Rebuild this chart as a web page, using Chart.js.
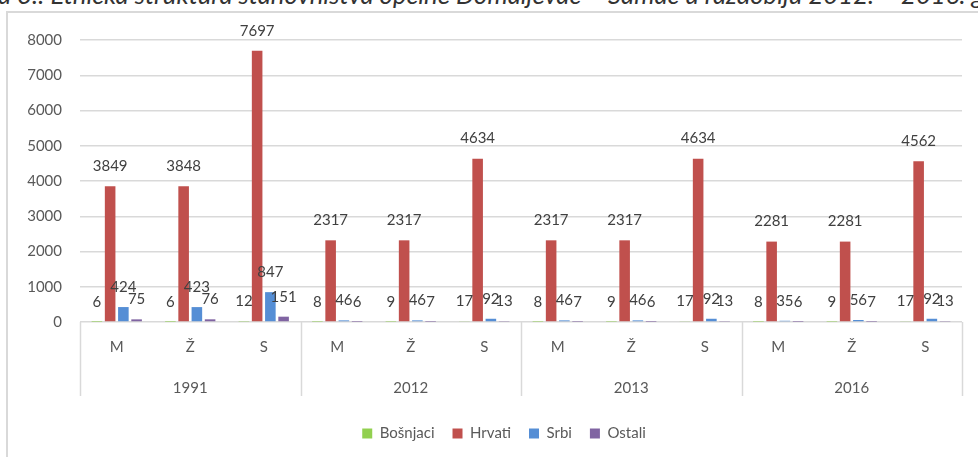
<!DOCTYPE html>
<html>
<head>
<meta charset="utf-8">
<script src="https://cdn.jsdelivr.net/npm/chart.js@4"></script>
<style>
  body { margin: 0; background: #fff; overflow: hidden; }
  #wrap { position: relative; width: 978px; height: 457px; overflow: hidden; }
  #title {
    position: absolute; left: -2px; top: -18px; white-space: nowrap;
    font: italic 25.7px/24px Lato, sans-serif; color: #333;
  }
  #frame {
    position: absolute; left: 6px; top: 11px; width: 1100px; height: 600px;
    border: 2px solid #d9d9d9;
  }
  #chart { position: absolute; left: 0; top: 0; }
</style>
</head>
<body>
<div id="wrap">
  <div id="title">a 3.: Etnička struktura stanovništva općine Domaljevac – Šamac u razdoblju 2012. – 2016. godine</div>
  <div id="frame"></div>
  <canvas id="chart" width="978" height="457"></canvas>
</div>
<script>
// Categories (sex) and years
const categories = ['M', 'Ž', 'S', 'M', 'Ž', 'S', 'M', 'Ž', 'S', 'M', 'Ž', 'S'];
const years = ['1991', '2012', '2013', '2016'];

// Population by ethnicity
const bosnjaci = [6, 6, 12, 8, 9, 17, 8, 9, 17, 8, 9, 17];
const hrvati = [3849, 3848, 7697, 2317, 2317, 4634, 2317, 2317, 4634, 2281, 2281, 4562];
const srbi = [424, 423, 847, 46, 46, 92, 46, 46, 92, 35, 56, 92];
const ostali = [75, 76, 151, 6, 7, 13, 7, 6, 13, 6, 7, 13];

const yTicks = [0, 1000, 2000, 3000, 4000, 5000, 6000, 7000, 8000];

const FONT = 'Lato';

// Draw value labels above each bar
const valueLabels = {
    id: 'valueLabels',
    afterDatasetsDraw(chart) {
        const ctx = chart.ctx;
        ctx.save();
        ctx.font = '15px ' + FONT;
        ctx.fillStyle = '#404040';
        ctx.textAlign = 'center';
        ctx.textBaseline = 'middle';
        chart.data.datasets.forEach((ds, i) => {
            const meta = chart.getDatasetMeta(i);
            meta.data.forEach((bar, j) => {
                ctx.fillText(ds.data[j], bar.x, bar.y - 20);
            });
        });
        ctx.restore();
    }
};

// Group separators for the two-level category axis
const groupLines = {
    id: 'groupLines',
    afterDraw(chart) {
        const x = chart.scales.x;
        const ctx = chart.ctx;
        const step = x.width / categories.length;
        const top = chart.chartArea.bottom;
        ctx.save();
        ctx.strokeStyle = '#d9d9d9';
        ctx.lineWidth = 1.5;
        for (let i = 0; i <= categories.length; i += 3) {
            const px = Math.round(x.left + i * step) + 0.5;
            ctx.beginPath();
            ctx.moveTo(px, top);
            ctx.lineTo(px, top + 74);
            ctx.stroke();
        }
        ctx.restore();
    }
};

// Legend sits a little right of the canvas centre, like the original
const legendShift = {
    id: 'legendShift',
    afterLayout(chart) {
        if (chart.legend) {
            chart.legend.left += 23;
            chart.legend.right += 23;
        }
    }
};

new Chart(document.getElementById('chart'), {
    type: 'bar',
    data: {
        labels: categories,
        datasets: [
            { label: 'Bošnjaci', data: bosnjaci, backgroundColor: '#92d050' },
            { label: 'Hrvati', data: hrvati, backgroundColor: '#c0504d' },
            { label: 'Srbi', data: srbi, backgroundColor: '#558ed5' },
            { label: 'Ostali', data: ostali, backgroundColor: '#8064a2' }
        ]
    },
    options: {
        responsive: false,
        animation: false,
        devicePixelRatio: 1,
        categoryPercentage: 0.72,
        barPercentage: 0.8,
        layout: { padding: { left: 0, right: 16, top: 40, bottom: 6 } },
        plugins: {
            legend: {
                position: 'bottom',
                labels: {
                    boxWidth: 10,
                    boxHeight: 10,
                    padding: 18,
                    color: '#595959',
                    font: { family: FONT, size: 15 }
                }
            },
            tooltip: { enabled: false }
        },
        scales: {
            y: {
                min: 0,
                max: 8000,
                afterBuildTicks(scale) {
                    scale.ticks = yTicks.map(v => ({ value: v }));
                },
                afterFit(scale) { scale.width = 80; },
                border: { display: false },
                grid: { color: '#d9d9d9', lineWidth: 1.5, drawTicks: false },
                ticks: {
                    padding: 18,
                    color: '#595959',
                    font: { family: FONT, size: 15 },
                    callback: v => String(v)
                }
            },
            x: {
                grid: { display: false, drawTicks: false },
                border: { display: false },
                afterFit(scale) { scale.height = 38; },
                ticks: {
                    padding: 16,
                    maxRotation: 0,
                    color: '#595959',
                    font: { family: FONT, size: 15 }
                }
            },
            x2: {
                type: 'category',
                labels: years,
                position: 'bottom',
                grid: { display: false, drawTicks: false },
                border: { display: false },
                afterFit(scale) { scale.height = 48; },
                ticks: {
                    padding: 19,
                    maxRotation: 0,
                    color: '#595959',
                    font: { family: FONT, size: 15 }
                }
            }
        }
    },
    plugins: [valueLabels, groupLines, legendShift]
});
</script>
</body>
</html>
